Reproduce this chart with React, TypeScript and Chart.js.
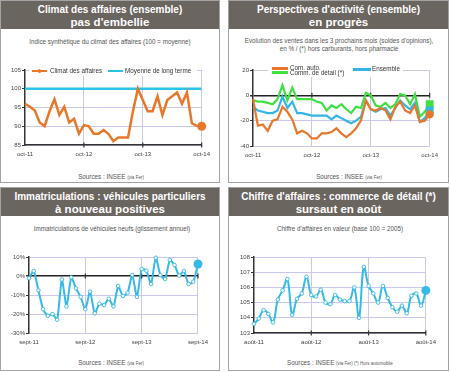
import React, { useEffect, useRef } from 'react';
import { Chart, registerables } from 'chart.js';

Chart.register(...registerables);

const FONT = '"Liberation Sans", Arial, Helvetica, sans-serif';
const GRID = '#c9c9f0';
const AXIS = '#333333';
const TEXT = '#444444';
const HEADER = '#6b655f';
const ORANGE = '#e8772a';
const CYAN = '#2cc3e8';
const CYAN2 = '#33b5e5';
const GREEN = '#3fe03f';
const BLUE_LINE = '#36b9e6';

Chart.defaults.font.family = FONT;

// ---------- Panel 1 : Climat des affaires ----------
const climatYears = ['oct-11', 'oct-12', 'oct-13', 'oct-14'];
const climatAffaires = [96, 95.2, 94.2, 91, 90, 94, 97.2, 93, 95.2, 91, 92, 88, 90.3, 90, 88, 88, 89, 88, 86, 87, 87, 87, 94, 100, 97, 94, 94, 98, 93, 97, 98, 99, 96, 99, 90.8, 90.1, 90];
const moyenneLongTerme = 100;
const climatTicks = [85, 105, 5];

// ---------- Panel 2 : Perspectives d'activité ----------
const perspYears = ['oct-11', 'oct-12', 'oct-13', 'oct-14'];
const comAuto = [-3, -24, -23, -28, -20, -19, -9, -13, -19, -30, -28, -30, -34, -34, -30, -30, -29, -26, -30, -33, -30, -26, -20, -4, -11, -12, -10, -12, -19, -9, -5, -12, -14, -8, -21, -20, -15];
const commDetail = [-4, -5, -5, -6, -7, -3, 8, -4, 6, -3, -3, -3, -3, -5, -6, -12, -8, -10, -7, -11, -14, -9, -10, 2, 0, -8, -9, -6, -10, -7, 1, 0, -7, 1, -17, -13, -7];
const ensemble = [-9, -12, -13, -14, -14, -12, -1, -10, -5, -14, -14, -15, -16, -16, -16, -16, -19, -16, -18, -20, -22, -20, -17, -4, -11, -13, -11, -10, -16, -10, -4, -8, -11, -6, -21, -18, -12];
const perspTicks = [-40, 20, 20];

// ---------- Panel 3 : Immatriculations ----------
const immatYears = ['sept-11', 'sept-12', 'sept-13', 'sept-14'];
const immatriculations = [-1.2, 2.6, -7.5, -17.5, -21, -20, -23, -1.8, -16, -0.7, -6.5, -11, -17.5, -8.2, -19.6, -14.6, -15.3, -12, -16, -5.3, -10.5, -8.8, 0.5, -11, 3.7, 2.8, -4.2, 9.6, 0.5, -1.6, 8.4, 5.8, 0.2, 2.6, -4.2, -3, 6.3];
const immatTicks = [-30, 10, 10];

// ---------- Panel 4 : Chiffre d'affaires ----------
const caYears = ['août-11', 'août-12', 'août-13', 'août-14'];
const chiffreAffaires = [103.6, 103.95, 104.5, 104.25, 103.7, 105.2, 105.8, 106.55, 104.2, 105.25, 105.6, 106.7, 105.5, 105.4, 105.85, 105, 104.9, 105.5, 105.2, 105.1, 105.1, 106, 104, 107.35, 106.1, 105.6, 105, 106.1, 105.3, 104.7, 104.4, 104.8, 104.3, 105.45, 105.6, 104.8, 105.8];
const caTicks = [103, 108, 1];

const toXY = (arr: number[]) => arr.map((y, x) => ({ x, y }));

const axisMarks = {
  id: 'axisMarks',
  beforeDatasetsDraw(chart: any, _args: any, opts: any) {
    const xs = chart.scales.x;
    const ys = chart.scales.y;
    const yp = ys.getPixelForValue(opts.base);
    const ctx = chart.ctx;
    ctx.save();
    ctx.strokeStyle = AXIS;
    ctx.lineWidth = 1.2;
    for (const v of [12, 24, 36]) {
      const xp = xs.getPixelForValue(v);
      ctx.beginPath();
      ctx.moveTo(xp, yp - 2.5);
      ctx.lineTo(xp, yp + 2.5);
      ctx.stroke();
    }
    ctx.restore();
  },
};

type OptP = {
  ticks: number[];
  yFmt: (v: number) => string;
  years: string[];
  yAxisW: number;
  padTop: number;
  padRight: number;
  xAxisH: number;
  base: number;
  zero: boolean;
  xBorder: boolean;
};

function makeOptions(p: OptP): any {
  const [min, max, step] = p.ticks;
  return {
    responsive: false,
    animation: false,
    events: [],
    layout: { padding: { top: p.padTop, right: p.padRight, left: 0, bottom: 0 } },
    plugins: {
      legend: { display: false },
      tooltip: { enabled: false },
      title: { display: false },
      axisMarks: { base: p.base },
    },
    scales: {
      x: {
        type: 'linear',
        min: 0,
        max: 36,
        ticks: {
          stepSize: 12,
          autoSkip: false,
          maxRotation: 0,
          padding: 6,
          color: TEXT,
          font: { size: 6, family: FONT },
          callback: (v: number) => p.years[Math.round(v / 12)] ?? '',
        },
        grid: {
          drawTicks: false,
          color: (c: any) => (c.tick && c.tick.value === 0 ? 'rgba(0,0,0,0)' : GRID),
          lineWidth: 1,
        },
        border: { display: p.xBorder, color: AXIS, width: 1.5 },
        afterFit: (s: any) => {
          s.height = p.xAxisH;
        },
      },
      y: {
        min,
        max,
        ticks: {
          stepSize: step,
          padding: 1,
          color: TEXT,
          font: { size: 6, family: FONT },
          callback: (v: number) => p.yFmt(v),
        },
        grid: {
          color: (c: any) => (p.zero && c.tick && c.tick.value === 0 ? '#222222' : GRID),
          lineWidth: (c: any) => (p.zero && c.tick && c.tick.value === 0 ? 1.6 : 1),
          tickColor: AXIS,
          tickLength: 3,
        },
        border: { color: AXIS, width: 1.5 },
        afterFit: (s: any) => {
          s.width = p.yAxisW;
        },
      },
    },
  };
}

type Rect = { L: number; T: number; R: number; B: number };

function ChartCanvas({ rect, yAxisW, build }: { rect: Rect; yAxisW: number; build: (geo: any) => any }) {
  const ref = useRef<HTMLCanvasElement>(null);
  const padTop = 8;
  const padRight = 14;
  const xAxisH = 16;
  const left = rect.L - yAxisW;
  const top = rect.T - padTop;
  const width = yAxisW + (rect.R - rect.L) + padRight;
  const height = padTop + (rect.B - rect.T) + xAxisH;
  useEffect(() => {
    if (!ref.current) return;
    const cfg = build({ yAxisW, padTop, padRight, xAxisH });
    const chart = new Chart(ref.current, cfg);
    return () => chart.destroy();
  }, []);
  return (
    <canvas
      ref={ref}
      width={width}
      height={height}
      style={{ position: 'absolute', left, top, width, height }}
    />
  );
}

function Panel({ x, y, w, h, t1, t2 }: { x: number; y: number; w: number; h: number; t1: string; t2: string }) {
  return (
    <div
      style={{
        position: 'absolute',
        left: x,
        top: y,
        width: w,
        height: h,
        boxSizing: 'border-box',
        border: '1px solid #a4a4a4',
        background: '#fff',
      }}
    >
      <div
        style={{
          position: 'absolute',
          left: 0,
          top: 0,
          right: 0,
          height: 28,
          background: HEADER,
          color: '#fff',
          fontWeight: 'bold',
          textAlign: 'center',
        }}
      >
        <div style={{ position: 'absolute', left: 0, right: 0, top: 2.5, fontSize: 10, lineHeight: '12px' }}>{t1}</div>
        <div style={{ position: 'absolute', left: 0, right: 0, top: 13.5, fontSize: 11.5, lineHeight: '14px' }}>{t2}</div>
      </div>
    </div>
  );
}

function Txt({ cx, cy, size, children, w = 220 }: { cx: number; cy: number; size: number; children: any; w?: number }) {
  return (
    <div
      style={{
        position: 'absolute',
        left: cx - w / 2,
        width: w,
        top: cy - 4,
        lineHeight: '8px',
        fontSize: size,
        color: '#555',
        textAlign: 'center',
        whiteSpace: 'nowrap',
      }}
    >
      {children}
    </div>
  );
}

function Sources({ cx, cy, extra }: { cx: number; cy: number; extra?: string }) {
  return (
    <Txt cx={cx} cy={cy} size={6.3}>
      Sources : INSEE <span style={{ fontSize: 4.5 }}>(via Fer){extra ? ' ' + extra : ''}</span>
    </Txt>
  );
}

function LegLine({ x, y, w, color, dot, square }: { x: number; y: number; w: number; color: string; dot?: boolean; square?: boolean }) {
  return (
    <>
      <div style={{ position: 'absolute', left: x, top: y - 1.25, width: w, height: 2.5, background: color }} />
      {dot ? (
        <div
          style={{
            position: 'absolute',
            left: x + w / 2 - 1.8,
            top: y - 1.8,
            width: 3.6,
            height: 3.6,
            borderRadius: '50%',
            background: color,
          }}
        />
      ) : null}
    </>
  );
}

function LegText({ x, y, children }: { x: number; y: number; children: any }) {
  return (
    <div
      style={{
        position: 'absolute',
        left: x,
        top: y - 4,
        lineHeight: '8px',
        fontSize: 6.3,
        color: '#333',
        whiteSpace: 'nowrap',
      }}
    >
      {children}
    </div>
  );
}

const lastIdx = (arr: number[]) => arr.length - 1;

export default function App() {
  useEffect(() => {
    document.body.style.margin = '0';
  }, []);

  const buildClimat = (g: any) => ({
    type: 'line',
    data: {
      datasets: [
        {
          label: 'Climat des affaires',
          data: toXY(climatAffaires),
          borderColor: ORANGE,
          backgroundColor: ORANGE,
          borderWidth: 2.5,
          pointRadius: (c: any) => (c.dataIndex === lastIdx(climatAffaires) ? 4.5 : 0),
          pointBorderWidth: 0,
          tension: 0,
          clip: false,
        },
        {
          label: 'Moyenne de long terme',
          data: [
            { x: 0, y: moyenneLongTerme },
            { x: 36, y: moyenneLongTerme },
          ],
          borderColor: CYAN,
          borderWidth: 2.5,
          pointRadius: 0,
        },
      ],
    },
    options: makeOptions({
      ticks: climatTicks,
      yFmt: (v) => String(v),
      years: climatYears,
      yAxisW: g.yAxisW,
      padTop: g.padTop,
      padRight: g.padRight,
      xAxisH: g.xAxisH,
      base: climatTicks[0],
      zero: false,
      xBorder: true,
    }),
    plugins: [axisMarks],
  });

  const buildPersp = (g: any) => ({
    type: 'line',
    data: {
      datasets: [
        {
          label: 'Com. auto.',
          data: toXY(comAuto),
          borderColor: ORANGE,
          backgroundColor: ORANGE,
          borderWidth: 2.2,
          pointRadius: (c: any) => (c.dataIndex === lastIdx(comAuto) ? 3 : 0),
          tension: 0,
          clip: false,
        },
        {
          label: 'Ensemble',
          data: toXY(ensemble),
          borderColor: CYAN2,
          backgroundColor: CYAN2,
          borderWidth: 2.2,
          pointStyle: 'rect',
          pointRadius: (c: any) => (c.dataIndex === lastIdx(ensemble) ? 4 : 0),
          tension: 0,
          clip: false,
        },
        {
          label: 'Comm. de détail (*)',
          data: toXY(commDetail),
          borderColor: GREEN,
          backgroundColor: GREEN,
          borderWidth: 2.2,
          pointStyle: 'rect',
          pointRadius: (c: any) => (c.dataIndex === lastIdx(commDetail) ? 4 : 0),
          tension: 0,
          clip: false,
        },
      ],
    },
    options: makeOptions({
      ticks: perspTicks,
      yFmt: (v) => String(v),
      years: perspYears,
      yAxisW: g.yAxisW,
      padTop: g.padTop,
      padRight: g.padRight,
      xAxisH: g.xAxisH,
      base: 0,
      zero: true,
      xBorder: false,
    }),
    plugins: [axisMarks],
  });

  const hollowLine = (label: string, arr: number[], tension: number) => ({
    label,
    data: toXY(arr),
    borderColor: BLUE_LINE,
    backgroundColor: BLUE_LINE,
    borderWidth: 2,
    pointRadius: (c: any) => (c.dataIndex === lastIdx(arr) ? 4.5 : 1.8),
    pointBackgroundColor: (c: any) => (c.dataIndex === lastIdx(arr) ? BLUE_LINE : '#ffffff'),
    pointBorderColor: BLUE_LINE,
    pointBorderWidth: (c: any) => (c.dataIndex === lastIdx(arr) ? 0 : 0.9),
    tension,
    clip: false,
  });

  const buildImmat = (g: any) => ({
    type: 'line',
    data: { datasets: [hollowLine('Immatriculations', immatriculations, 0.2)] },
    options: makeOptions({
      ticks: immatTicks,
      yFmt: (v) => v + '%',
      years: immatYears,
      yAxisW: g.yAxisW,
      padTop: g.padTop,
      padRight: g.padRight,
      xAxisH: g.xAxisH,
      base: 0,
      zero: true,
      xBorder: false,
    }),
    plugins: [axisMarks],
  });

  const buildCA = (g: any) => ({
    type: 'line',
    data: { datasets: [hollowLine("Chiffre d'affaires", chiffreAffaires, 0.4)] },
    options: makeOptions({
      ticks: caTicks,
      yFmt: (v) => String(v),
      years: caYears,
      yAxisW: g.yAxisW,
      padTop: g.padTop,
      padRight: g.padRight,
      xAxisH: g.xAxisH,
      base: caTicks[0],
      zero: false,
      xBorder: true,
    }),
    plugins: [axisMarks],
  });

  return (
    <div
      style={{
        position: 'absolute',
        left: 0,
        top: 0,
        width: 450,
        height: 372,
        background: '#fff',
        fontFamily: FONT,
        overflow: 'hidden',
      }}
    >
      <Panel x={0} y={0} w={220} h={183} t1="Climat des affaires (ensemble)" t2="pas d'embellie" />
      <Panel x={228} y={0} w={221} h={183} t1="Perspectives d'activité (ensemble)" t2="en progrès" />
      <Panel x={0} y={187} w={220} h={184} t1="Immatriculations : véhicules particuliers" t2="à nouveau positives" />
      <Panel x={228} y={187} w={221} h={184} t1="Chiffre d'affaires : commerce de détail (*)" t2="sursaut en août" />

      <Txt cx={110} cy={42} size={6.3}>Indice synthétique du climat des affaires (100 = moyenne)</Txt>
      <Txt cx={339} cy={41} size={6.3} w={222}>Evolution des ventes dans les 3 prochains mois (soldes d'opinions),</Txt>
      <Txt cx={339} cy={49} size={6.3}>en % / (*) hors carburants, hors pharmacie</Txt>
      <Txt cx={112} cy={229} size={6.3}>Immatriculations de véhicules neufs (glissement annuel)</Txt>
      <Txt cx={340} cy={229} size={6.3}>Chiffre d'affaires en valeur (base 100 = 2005)</Txt>

      <ChartCanvas rect={{ L: 25, T: 70, R: 202, B: 145 }} yAxisW={25} build={buildClimat} />
      <ChartCanvas rect={{ L: 253, T: 70, R: 430, B: 146 }} yAxisW={22} build={buildPersp} />
      <ChartCanvas rect={{ L: 29, T: 257, R: 200, B: 333 }} yAxisW={27} build={buildImmat} />
      <ChartCanvas rect={{ L: 254, T: 257, R: 428, B: 333 }} yAxisW={22} build={buildCA} />

      {/* legend panel 1 */}
      <div style={{ position: 'absolute', left: 29, top: 66, width: 168, height: 10, background: '#fff' }} />
      <LegLine x={32} y={71} w={15} color={ORANGE} dot />
      <LegText x={50} y={71}>Climat des affaires</LegText>
      <LegLine x={108} y={71} w={15} color={CYAN} />
      <LegText x={125} y={71}>Moyenne de long terme</LegText>

      {/* legend panel 2 */}
      <div style={{ position: 'absolute', left: 268, top: 64, width: 135, height: 13, background: '#fff' }} />
      <LegLine x={272} y={68.3} w={16} color={ORANGE} dot />
      <LegText x={290} y={67.5}>Com. auto.</LegText>
      <LegLine x={272} y={72.7} w={16} color={GREEN} />
      <LegText x={290} y={73}>Comm. de détail (*)</LegText>
      <LegLine x={353} y={69.3} w={18} color={CYAN2} />
      <LegText x={372} y={68.5}>Ensemble</LegText>

      <Sources cx={111} cy={177} />
      <Sources cx={349} cy={177} />
      <Sources cx={111} cy={363} />
      <Sources cx={340} cy={363} extra="(*) Hors automobile" />
    </div>
  );
}
